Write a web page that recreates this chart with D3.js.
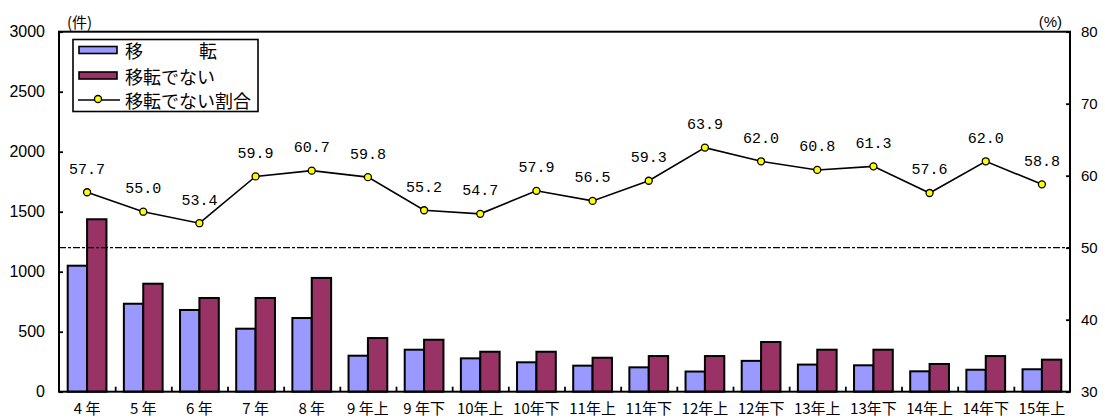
<!DOCTYPE html>
<html>
<head>
<meta charset="utf-8">
<script src="https://cdn.jsdelivr.net/npm/d3@7"></script>
<style>
  html, body { margin: 0; padding: 0; background: #fff; }
  svg { display: block; }
</style>
</head>
<body>
<svg id="chart" width="1105" height="419"></svg>
<script>
// Period labels (year, first/second half)
const categories = ["4 年", "5 年", "6 年", "7 年", "8 年", "9 年上", "9 年下", "10年上", "10年下",
  "11年上", "11年下", "12年上", "12年下", "13年上", "13年下", "14年上", "14年下", "15年上"];
// 移転 (件)
const moved = [1050, 733, 681, 525, 614, 300, 350, 278, 245, 217, 203, 168, 257, 226, 220, 170, 183, 187];
// 移転でない (件)
const notMoved = [1437, 900, 781, 781, 948, 447, 433, 333, 333, 283, 297, 297, 414, 350, 350, 231, 297, 267];
// 移転でない割合 (%)
const ratio = [57.7, 55.0, 53.4, 59.9, 60.7, 59.8, 55.2, 54.7, 57.9, 56.5, 59.3, 63.9, 62.0, 60.8, 61.3, 57.6, 62.0, 58.8];
const leftTicks = [0, 500, 1000, 1500, 2000, 2500, 3000];
const rightTicks = [30, 40, 50, 60, 70, 80];
const seriesNames = ["移転", "移転でない"];
const refLevel = 50;

const svg = d3.select("#chart");
const L = 59, R = 1070, T = 31.7, B = 391.7;
const colors = { "移転": "#9999ff", "移転でない": "#993366" };

const x = d3.scaleBand().domain(categories).range([L, R]).paddingInner(0.31).paddingOuter(0.155);
const x1 = d3.scaleBand().domain(seriesNames).range([0, x.bandwidth()]);
const yL = d3.scaleLinear().domain([0, 3000]).range([B, T]);
const yR = d3.scaleLinear().domain([30, 80]).range([B, T]);
const xIdx = d3.scaleLinear().domain([0, categories.length]).range([L, R]);

const sansFont = "'Liberation Sans', Arial, 'Noto Sans CJK JP', sans-serif";
const jpFont = "'Noto Sans CJK JP', 'Liberation Sans', sans-serif";

// Bars
const rows = categories.map((c, i) => ({ c, vals: [
  { k: "移転", v: moved[i] }, { k: "移転でない", v: notMoved[i] }] }));
const groups = svg.append("g").selectAll("g").data(rows).join("g")
  .attr("transform", d => `translate(${x(d.c)},0)`);
groups.selectAll("rect").data(d => d.vals).join("rect")
  .attr("x", d => x1(d.k))
  .attr("width", x1.bandwidth())
  .attr("y", d => yL(d.v))
  .attr("height", d => yL(0) - yL(d.v))
  .attr("fill", d => colors[d.k])
  .attr("stroke", "#000")
  .attr("stroke-width", 2);

// 50% reference line
svg.append("line")
  .attr("x1", L).attr("x2", R)
  .attr("y1", yR(refLevel)).attr("y2", yR(refLevel))
  .attr("stroke", "#000").attr("stroke-width", 1.3)
  .attr("stroke-dasharray", "7,2,3,2");

// Ratio line
const line = d3.line()
  .x((d, i) => x(categories[i]) + x.bandwidth() / 2)
  .y(d => yR(d));
svg.append("path").datum(ratio)
  .attr("d", line).attr("fill", "none")
  .attr("stroke", "#000").attr("stroke-width", 1.6);
svg.append("g").selectAll("circle").data(ratio).join("circle")
  .attr("cx", (d, i) => x(categories[i]) + x.bandwidth() / 2)
  .attr("cy", d => yR(d))
  .attr("r", 3.5)
  .attr("fill", "#ffff00").attr("stroke", "#000").attr("stroke-width", 1.3);
svg.append("g").selectAll("text").data(ratio).join("text")
  .attr("x", (d, i) => x(categories[i]) + x.bandwidth() / 2)
  .attr("y", d => yR(d) - 22)
  .attr("text-anchor", "middle")
  .attr("dominant-baseline", "central")
  .attr("font-family", "'Liberation Mono', 'DejaVu Sans Mono', monospace")
  .attr("font-size", 15)
  .attr("fill", "#000")
  .text(d => d.toFixed(1));

// Frame
svg.append("rect")
  .attr("x", L).attr("y", T).attr("width", R - L).attr("height", B - T)
  .attr("fill", "none").attr("stroke", "#000").attr("stroke-width", 2);

// Left axis
const axL = svg.append("g").attr("transform", `translate(${L},0)`)
  .call(d3.axisLeft(yL).tickValues(leftTicks).tickFormat(d3.format("d"))
    .tickSizeInner(-4).tickSizeOuter(0).tickPadding(14));
axL.select(".domain").remove();
axL.selectAll("line").attr("stroke", "#000").attr("stroke-width", 1.8);
axL.selectAll("text").attr("font-family", sansFont).attr("font-size", 16).attr("fill", "#000");

// Right axis
const axR = svg.append("g").attr("transform", `translate(${R},0)`)
  .call(d3.axisRight(yR).tickValues(rightTicks).tickSizeInner(-4).tickSizeOuter(0).tickPadding(11));
axR.select(".domain").remove();
axR.selectAll("line").attr("stroke", "#000").attr("stroke-width", 1.8);
axR.selectAll("text").attr("font-family", "'Liberation Sans Narrow', 'Liberation Sans', Arial, sans-serif")
  .attr("font-size", 15).attr("fill", "#000");

// Bottom axis: labels at band centres, ticks at category boundaries
const axB = svg.append("g").attr("transform", `translate(0,${B})`)
  .call(d3.axisBottom(x).tickSize(0).tickPadding(15));
axB.select(".domain").remove();
axB.selectAll("text").attr("font-family", jpFont).attr("font-size", 15).attr("fill", "#000")
  .attr("dy", "0.5em").style("white-space", "pre");
const axT = svg.append("g").attr("transform", `translate(0,${B})`)
  .call(d3.axisBottom(xIdx).tickValues(d3.range(1, categories.length)).tickSize(-5).tickFormat(""));
axT.select(".domain").remove();
axT.selectAll("line").attr("stroke", "#000").attr("stroke-width", 1.8);

// Unit labels
svg.append("text").attr("x", 67).attr("y", 21).attr("dominant-baseline", "central")
  .attr("font-family", jpFont).attr("font-size", 15).text("(件)");
svg.append("text").attr("x", 1062).attr("y", 21).attr("text-anchor", "end").attr("dominant-baseline", "central")
  .attr("font-family", sansFont).attr("font-size", 15).text("(%)");

// Legend
const lg = svg.append("g");
lg.append("rect").attr("x", 73).attr("y", 39.5).attr("width", 185).attr("height", 72)
  .attr("fill", "#fff").attr("stroke", "#000").attr("stroke-width", 1.6);
const rowY = [50, 75.5, 100];
seriesNames.forEach((k, i) => {
  lg.append("rect").attr("x", 79).attr("y", rowY[i] - 3.5).attr("width", 38).attr("height", 7)
    .attr("fill", colors[k]).attr("stroke", "#000").attr("stroke-width", 1.6);
});
const t1 = lg.append("text").attr("x", 125).attr("y", rowY[0]).attr("dominant-baseline", "central")
  .attr("font-family", jpFont).attr("font-size", 18);
t1.append("tspan").text("移");
t1.append("tspan").attr("x", 199).text("転");
lg.append("text").attr("x", 125).attr("y", rowY[1]).attr("dominant-baseline", "central")
  .attr("font-family", jpFont).attr("font-size", 18).text("移転でない");
lg.append("line").attr("x1", 78).attr("x2", 120).attr("y1", rowY[2]).attr("y2", rowY[2])
  .attr("stroke", "#000").attr("stroke-width", 1.6);
lg.append("circle").attr("cx", 98).attr("cy", rowY[2] - 1).attr("r", 3.5)
  .attr("fill", "#ffff00").attr("stroke", "#000").attr("stroke-width", 1.3);
lg.append("text").attr("x", 125).attr("y", rowY[2]).attr("dominant-baseline", "central")
  .attr("font-family", jpFont).attr("font-size", 18).text("移転でない割合");
</script>
</body>
</html>
